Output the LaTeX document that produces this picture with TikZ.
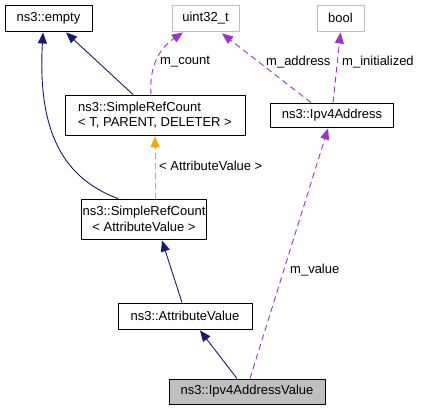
\documentclass[tikz,border=0pt]{standalone}
\usepackage{fontspec}
\setmainfont{Liberation Sans}
\usetikzlibrary{arrows.meta,calc}
\definecolor{navyc}{HTML}{191970}
\definecolor{purp}{HTML}{9A32CD}
\definecolor{orng}{HTML}{FFA500}
\definecolor{grayb}{HTML}{BFBFBF}
\tikzset{
  box/.style={draw=black, line width=0.9pt, inner sep=0pt, minimum height=26pt, align=center,
    font=\fontsize{13}{15.5}\selectfont},
  gbox/.style={box, draw=grayb},
  inh/.style={draw=navyc, line width=0.9pt, -{Triangle[length=11pt,width=9pt,fill=navyc]}},
  mem/.style={draw=purp, line width=0.9pt, dash pattern=on 6pt off 4pt, -{Triangle[length=11pt,width=9pt,fill=purp]}},
  tmpl/.style={draw=orng, line width=0.9pt, dash pattern=on 6pt off 4pt, -{Triangle[length=11pt,width=9pt,fill=orng]}},
  lbl/.style={anchor=west, inner sep=0pt, font=\fontsize{13}{15.5}\selectfont}
}
\begin{document}
\begin{tikzpicture}[x=1pt,y=-1pt]
\useasboundingbox (0,0) rectangle (421,411);
\node[box, minimum width=87pt] (empty) at (48.5,18) {ns3::empty};
\node[gbox, minimum width=67pt] (uint) at (205.5,18) {uint32\_t};
\node[gbox, minimum width=47pt] (bool) at (340.5,18) {bool};
\node[box, minimum width=180pt, minimum height=40pt, align=left] (src) at (155,115) {ns3::SimpleRefCount\\\textless{} T, PARENT, DELETER \textgreater};
\node[box, minimum width=123pt, minimum height=24pt] (ipv4) at (332,115) {ns3::Ipv4Address};
\node[box, minimum width=125pt, minimum height=40pt] (srcav) at (144,219) {ns3::SimpleRefCount\\\textless{} AttributeValue \textgreater};
\node[box, minimum width=134pt] (av) at (185,316) {ns3::AttributeValue};
\node[box, fill=grayb, minimum width=156pt, minimum height=25pt] (val) at (247,391.5) {ns3::Ipv4AddressValue};

\draw[inh] ($(src.north)+(-22,0)$) -- ($(empty.south)+(17.5,1)$);
\draw[inh] ($(srcav.north)+(-26,0)$) .. controls (57,176) and (38,122) .. ($(empty.south)+(-5.5,1)$);
\draw[mem] ($(src.north)+(-4,0)$) .. controls (149,65) and (160,48) .. ($(uint.south)+(-22.5,1)$);
\node[lbl] (lcount) at (160,62) {m\_count};
\draw[mem] ($(ipv4.north)+(-21,0)$) -- ($(uint.south)+(16.5,2)$);
\node[lbl] (laddr) at (266,62) {m\_address};
\draw[mem] ($(ipv4.north)+(1,0)$) -- ($(bool.south)+(0,1)$);
\node[lbl] (linit) at (342,62) {m\_initialized};
\draw[tmpl] ($(srcav.north)+(11,0)$) -- ($(src.south)+(0,1)$);
\node[lbl] (ltmpl) at (159,166) {\textless{} AttributeValue \textgreater};
\draw[inh] ($(av.north)+(-3,0)$) -- ($(srcav.south)+(18,1)$);
\draw[inh] ($(val.north)+(-10,0)$) -- ($(av.south)+(15,1)$);
\draw[mem] ($(val.north)+(3,0)$) -- ($(ipv4.south)+(-4,1)$);
\node[lbl] (lval) at (290,270) {m\_value};
\end{tikzpicture}
\end{document}
